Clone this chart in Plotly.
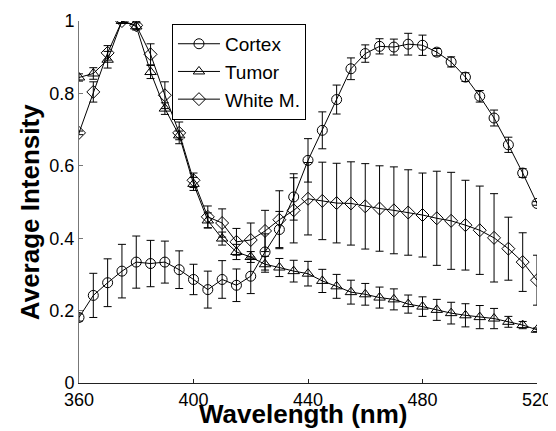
import plotly.graph_objects as go

wavelength = list(range(360, 521, 5))

cortex = [0.181, 0.242, 0.277, 0.309, 0.334, 0.330, 0.334, 0.313, 0.286, 0.258, 0.286, 0.270,
          0.295, 0.362, 0.424, 0.514, 0.615, 0.698, 0.783, 0.868, 0.910, 0.930, 0.928, 0.936,
          0.933, 0.914, 0.887, 0.845, 0.792, 0.732, 0.658, 0.580, 0.496]
cortex_err = [0.010, 0.061, 0.066, 0.074, 0.072, 0.064, 0.058, 0.052, 0.042, 0.051, 0.052, 0.045,
              0.048, 0.050, 0.050, 0.064, 0.060, 0.051, 0.040, 0.030, 0.024, 0.021, 0.022, 0.030,
              0.028, 0.010, 0.014, 0.012, 0.016, 0.022, 0.021, 0.012, 0.005]

tumor = [0.844, 0.855, 0.893, 1.000, 0.985, 0.859, 0.758, 0.684, 0.550, 0.449, 0.399, 0.362,
         0.348, 0.328, 0.319, 0.309, 0.302, 0.282, 0.267, 0.251, 0.245, 0.236, 0.231, 0.218,
         0.211, 0.202, 0.193, 0.187, 0.182, 0.178, 0.169, 0.160, 0.147]
tumor_err = [0.010, 0.016, 0.023, 0.005, 0.010, 0.018, 0.016, 0.012, 0.018, 0.021, 0.018, 0.021,
             0.015, 0.022, 0.025, 0.030, 0.034, 0.032, 0.033, 0.033, 0.030, 0.029, 0.029, 0.025,
             0.027, 0.029, 0.030, 0.032, 0.032, 0.028, 0.015, 0.010, 0.005]

white = [0.691, 0.804, 0.912, 1.000, 0.988, 0.908, 0.795, 0.691, 0.560, 0.459, 0.442, 0.390,
         0.395, 0.420, 0.451, 0.477, 0.509, 0.503, 0.497, 0.496, 0.488, 0.482, 0.477, 0.471,
         0.464, 0.455, 0.448, 0.436, 0.422, 0.401, 0.371, 0.334, 0.284]
white_err = [0.005, 0.028, 0.020, 0.005, 0.010, 0.029, 0.037, 0.030, 0.020, 0.030, 0.039, 0.037,
             0.047, 0.057, 0.080, 0.090, 0.100, 0.107, 0.110, 0.115, 0.118, 0.118, 0.120, 0.118,
             0.116, 0.130, 0.134, 0.124, 0.122, 0.122, 0.087, 0.081, 0.069]

x_ticks = [360, 400, 440, 480, 520]
y_ticks = [0, 0.2, 0.4, 0.6, 0.8, 1]
y_tick_labels = ["0", "0.2", "0.4", "0.6", "0.8", "1"]

series = [
    ("Cortex", cortex, cortex_err, "circle-open"),
    ("Tumor", tumor, tumor_err, "triangle-up-open"),
    ("White M.", white, white_err, "diamond-open"),
]

fig = go.Figure()
for name, vals, errs, sym in series:
    fig.add_trace(go.Scatter(
        x=wavelength, y=vals, name=name, mode="lines+markers",
        line=dict(color="black", width=1),
        marker=dict(symbol=sym, size=10, color="black", line=dict(width=1, color="black")),
        error_y=dict(type="data", array=errs, visible=True, color="black", thickness=1, width=4),
    ))

font = "Liberation Sans, Arial, sans-serif"
# page body has an 8px default margin, so the figure is sized to fit the window
fig.update_layout(
    width=548, height=423,
    margin=dict(l=71, r=19, t=13, b=48),
    paper_bgcolor="white", plot_bgcolor="white",
    font=dict(family=font, size=18, color="black"),
    showlegend=True,
    legend=dict(x=0.203, y=0.992, xanchor="left", yanchor="top",
                bordercolor="black", borderwidth=1, bgcolor="white",
                itemwidth=42,
                font=dict(size=19, family=font), tracegroupgap=0),
    xaxis=dict(range=[360, 520], tickvals=x_ticks, automargin=False,
               showgrid=False, zeroline=False, showline=True, linecolor="#222", linewidth=1,
               ticks="inside", ticklen=4, tickcolor="#222", tickfont=dict(size=18)),
    yaxis=dict(range=[0, 1], tickvals=y_ticks, ticktext=y_tick_labels, automargin=False,
               showgrid=False, zeroline=False, showline=True, linecolor="#777", linewidth=1,
               ticks="inside", ticklen=4, tickcolor="#777", tickfont=dict(size=18)),
    annotations=[
        dict(text="<b>Wavelength (nm)</b>", xref="paper", yref="paper",
             x=0.489, y=-0.087, xanchor="center", yanchor="middle", showarrow=False,
             font=dict(size=26, family=font, color="black")),
        dict(text="<b>Average Intensity</b>", xref="paper", yref="paper",
             x=-0.107, y=0.472, xanchor="center", yanchor="middle", showarrow=False,
             textangle=-90, font=dict(size=26, family=font, color="black")),
    ],
)

fig.write_html("out.html")
